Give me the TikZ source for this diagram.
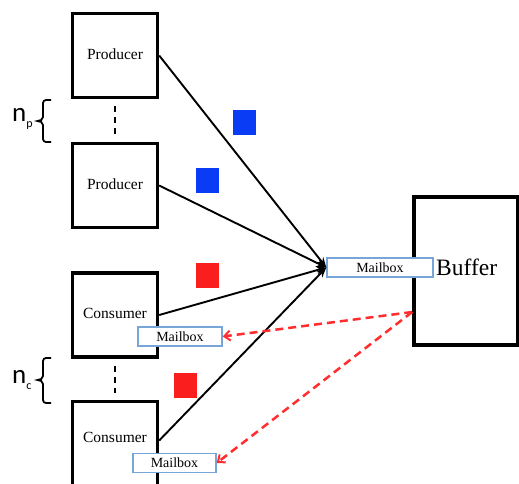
\documentclass[tikz,border=0pt]{standalone}
\usepackage{fontspec}
\setmainfont{Liberation Serif}
\newfontfamily\countfont{Carlito}
\usetikzlibrary{arrows.meta,calc}

\definecolor{msgblue}{RGB}{10,60,245}
\definecolor{msgred}{RGB}{250,30,30}
\definecolor{replyred}{RGB}{255,45,45}
\definecolor{mailedge}{RGB}{120,165,215}

\tikzset{
  procbox/.style={draw, line width=3.4pt, minimum width=85pt, minimum height=84pt,
    inner sep=0pt, font=\fontsize{15.5}{16}\selectfont},
  bufbox/.style={draw, line width=3.6pt, minimum width=104pt, minimum height=148pt, inner sep=0pt},
  mailbox/.style={draw=mailedge, line width=1.4pt, fill=white, inner sep=0pt,
    minimum height=19pt, font=\fontsize{14}{14}\selectfont},
  token/.style={minimum width=23pt, minimum height=25pt, inner sep=0pt},
  sendline/.style={line width=1.9pt, -{Stealth[length=10pt,width=8pt]}},
  replyline/.style={draw=replyred, line width=2.5pt, dash pattern=on 8pt off 5pt,
    -{Straight Barb[length=6pt,width=10pt,line width=2pt]}},
  gap/.style={line width=2.6pt, dash pattern=on 6pt off 5pt, shorten <=7pt, shorten >=7pt},
  bracestroke/.style={line width=1.8pt},
  countlbl/.style={inner sep=0pt, anchor=base west}
}

\begin{document}
\begin{tikzpicture}[x=1pt,y=-1pt]
\clip (0,0) rectangle (519,483);
\fill[white] (0,0) rectangle (519,483);

% producer and consumer processes
\node[procbox] (p1) at (115,55.5) {\raisebox{3pt}{Producer}};
\node[procbox] (p2) at (115,185.5) {\raisebox{3pt}{Producer}};
\node[procbox] (c1) at (115,315) {\raisebox{3pt}{Consumer}};
\node[procbox, minimum height=92pt, anchor=north] (c2) at (115,399.5) {};
\node[font=\fontsize{15.5}{16}\selectfont, inner sep=0pt] (c2t) at (115,437) {Consumer};

% the shared buffer and its mailbox
\node[bufbox] (buf) at (466,271) {};
\node[mailbox, minimum width=106pt] (mbB) at (380,267.5) {Mailbox};
\node[anchor=west, inner sep=0pt, font=\fontsize{23.5}{24}\selectfont] (buft) at (436,267) {Buffer};

% consumer mailboxes
\node[mailbox, minimum width=84pt] (mb1) at (180,336.5) {Mailbox};
\node[mailbox, minimum width=83pt] (mb2) at (174.5,463) {Mailbox};

% messages in flight
\node[token, fill=msgblue] (m1) at (244.5,122.5) {};
\node[token, fill=msgblue] (m2) at (207.5,180) {};
\node[token, fill=msgred] (m3) at (207.5,275) {};
\node[token, fill=msgred] (m4) at (185,385) {};

% requests sent to the buffer mailbox
\draw[sendline] (p1.east) -- (mbB.west);
\draw[sendline] (p2.east) -- (mbB.west);
\draw[sendline] (c1.east) -- (mbB.west);
\draw[sendline] ($(c2.north east)+(0,41)$) -- (mbB.west);

% replies from the buffer to the consumers
\coordinate (port) at ($(buf.west)+(0,41)$);
\draw[replyline] (port) -- (mb1.east);
\draw[replyline] (port) -- (mb2.east);

% elided processes
\draw[gap] (p1.south) -- (p2.north);
\draw[gap] (c1.south) -- (c2.north);

% braces with process counts
\draw[bracestroke] (51,100) -- (46,100) to[out=180,in=90] (43,103) -- (43,117)
  to[out=-90,in=0] (37.5,121) to[out=0,in=90] (43,125) -- (43,139)
  to[out=-90,in=180] (46,142) -- (51,142);
\draw[bracestroke] (51,358) -- (46,358) to[out=180,in=90] (43,361) -- (43,376)
  to[out=-90,in=0] (37.5,380) to[out=0,in=90] (43,384) -- (43,400)
  to[out=-90,in=180] (46,403) -- (51,403);
\node[countlbl] (np) at (12,121.7) {\countfont\fontsize{27}{27}\selectfont n\raisebox{-6pt}{\fontsize{12}{12}\selectfont p}};
\node[countlbl] (nc) at (12,383) {\countfont\fontsize{27}{27}\selectfont n\raisebox{-6pt}{\fontsize{12}{12}\selectfont c}};
\end{tikzpicture}
\end{document}
